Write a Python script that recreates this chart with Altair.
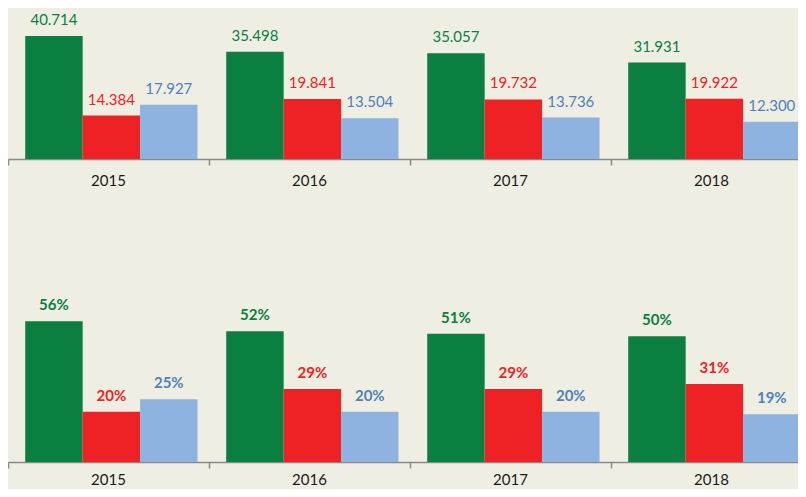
import altair as alt
import pandas as pd

years = ["2015", "2016", "2017", "2018"]
series = ["Serie 1", "Serie 2", "Serie 3"]

s1_abs = [40.714, 35.498, 35.057, 31.931]
s2_abs = [14.384, 19.841, 19.732, 19.922]
s3_abs = [17.927, 13.504, 13.736, 12.300]

s1_pct = [0.56, 0.52, 0.51, 0.50]
s2_pct = [0.20, 0.29, 0.29, 0.31]
s3_pct = [0.25, 0.20, 0.20, 0.19]

bar_colors = ["#0A7F3F", "#EE2224", "#8EB3E0"]
text_colors = ["#0A7F3F", "#EE2224", "#4F81BD"]


def long_df(cols):
    rows = []
    for s, vals in zip(series, cols):
        for y, v in zip(years, vals):
            rows.append({"year": y, "series": s, "value": v})
    return pd.DataFrame(rows)


df_abs = long_df([s1_abs, s2_abs, s3_abs])
df_pct = long_df([s1_pct, s2_pct, s3_pct])

W, H = 790, 481
X_RANGE = [0, 804]
TOP_AXIS, BOT_AXIS = 151, 454


def x_enc(axis_offset, pad=8):
    if axis_offset is None:
        ax = None
    else:
        ax = alt.Axis(
            title=None,
            orient="bottom",
            bandPosition=0,
            offset=axis_offset,
            labelAngle=0,
            labelFont="Lato",
            labelFontSize=15,
            labelColor="#1a1a1a",
            labelPadding=pad,
            tickSize=6,
            tickColor="#8a8a8a",
            tickWidth=1.5,
            domainColor="#8a8a8a",
            domainWidth=1.5,
            grid=False,
        )
    return alt.X("year:N", sort=years,
                 scale=alt.Scale(paddingInner=0, paddingOuter=0, range=X_RANGE),
                 axis=ax)


xoff = alt.XOffset("series:N", sort=series,
                   scale=alt.Scale(paddingInner=0, paddingOuter=0.25, align=0.6))


def panel(df, domain, yrange, fmt, weight, axis_offset, pad):
    y = alt.Y("value:Q", scale=alt.Scale(domain=domain, nice=False, range=yrange), axis=None)
    bars = alt.Chart(df).mark_bar().encode(
        x=x_enc(axis_offset, pad), xOffset=xoff, y=y,
        color=alt.Color("series:N", sort=series,
                        scale=alt.Scale(domain=series, range=bar_colors), legend=None),
    )
    text = alt.Chart(df).mark_text(
        baseline="alphabetic", dy=-11, font="Lato", fontSize=15, fontWeight=weight
    ).encode(
        x=x_enc(None), xOffset=xoff, y=y,
        text=alt.Text("value:Q", format=fmt),
        color=alt.Color("series:N", sort=series,
                        scale=alt.Scale(domain=series, range=text_colors), legend=None),
    )
    return [bars, text]


layers = (
    panel(df_abs, [0, 50], [TOP_AXIS, 0], ".3f", "normal", TOP_AXIS - H, 8)
    + panel(df_pct, [0, 0.7], [BOT_AXIS, 278], ".0%", "bold", BOT_AXIS - H, 4)
)

chart = (
    alt.layer(*layers)
    .resolve_scale(color="independent", y="independent")
    .resolve_axis(x="independent")
    .properties(width=W, height=H, padding=0, background="#EFEEE3",
                autosize=alt.AutoSizeParams(type="none"))
    .configure_view(stroke=None)
)

chart.save("out.html", embed_options={"renderer": "svg", "actions": False})
